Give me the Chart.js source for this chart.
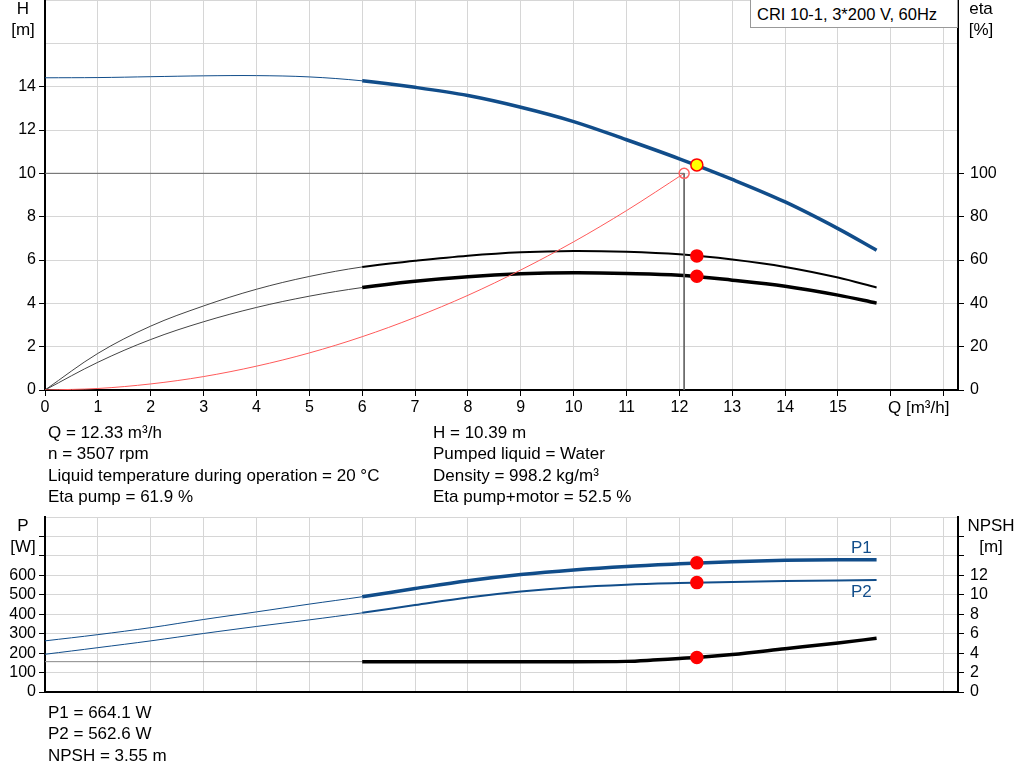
<!DOCTYPE html>
<html>
<head>
<meta charset="utf-8">
<script src="https://cdn.jsdelivr.net/npm/chart.js@4"></script>
<style>
  body { margin: 0; background: #fff; font-family: "Liberation Sans", Arial, sans-serif; }
  #wrap { position: relative; width: 1024px; height: 781px; overflow: hidden; }
  .box { position: absolute; }
  .t { position: absolute; font-size: 17px; color: #000; white-space: nowrap; line-height: 21.3px; }
  .c { text-align: center; }
  #title { position: absolute; left: 750px; top: -1px; width: 208px; height: 29px; border: 1px solid #999;
           background: #fff; font-size: 16.5px; line-height: 29px; padding-left: 6px; box-sizing: border-box; }
</style>
</head>
<body>
<div id="wrap">
  <div class="box" style="left:0;top:0;width:1024px;height:420px"><canvas id="top"></canvas></div>
  <div class="box" style="left:0;top:506px;width:1024px;height:200px"><canvas id="bottom"></canvas></div>

  <div id="title">CRI 10-1, 3*200 V, 60Hz</div>

  <div class="t c" style="left:3px;top:-2px;width:40px">H<br>[m]</div>
  <div class="t c" style="left:961px;top:-2px;width:40px">eta<br>[%]</div>
  <div class="t" style="left:888px;top:397px">Q [m³/h]</div>

  <div class="t" style="left:48px;top:422px">Q = 12.33 m³/h<br>n = 3507 rpm<br>Liquid temperature during operation = 20 °C<br>Eta pump = 61.9 %</div>
  <div class="t" style="left:433px;top:422px">H = 10.39 m<br>Pumped liquid = Water<br>Density = 998.2 kg/m³<br>Eta pump+motor = 52.5 %</div>

  <div class="t c" style="left:3px;top:515px;width:40px">P<br>[W]</div>
  <div class="t c" style="left:964px;top:515px;width:54px">NPSH<br>[m]</div>
  <div class="t" style="left:851px;top:537px;color:#114d8a">P1</div>
  <div class="t" style="left:851px;top:581px;color:#114d8a">P2</div>

  <div class="t" style="left:48px;top:702px">P1 = 664.1 W<br>P2 = 562.6 W<br>NPSH = 3.55 m</div>
</div>

<script>
// flow values (m3/h)
const qCurve = [0, 1, 2, 3, 4, 5, 6, 7, 8, 9, 10, 11, 12, 13, 14, 15, 15.73];
// head H [m]
const headH = [14.41, 14.42, 14.46, 14.5, 14.51, 14.45, 14.27, 13.97, 13.59, 13.05, 12.39, 11.55, 10.67, 9.72, 8.68, 7.45, 6.45];
// eta pump / eta pump+motor [%]
const etaPump = [0, 16.9, 29.5, 38.8, 46.5, 52.4, 56.8, 59.6, 62.0, 63.6, 64.2, 63.8, 62.6, 60.2, 56.8, 51.9, 47.3];
const etaTotal = [0, 12.8, 23.3, 31.5, 38.1, 43.3, 47.3, 50.2, 52.3, 53.6, 54.1, 53.8, 53.0, 50.7, 47.9, 43.8, 40.1];
// system curve
const qSystem = [0, 1, 2, 3, 4, 5, 6, 7, 8, 9, 10, 11, 12.09];
const hSystem = [0, 0.07, 0.28, 0.62, 1.1, 1.71, 2.46, 3.35, 4.37, 5.54, 6.84, 8.28, 10];
// power [W]
const powerP1 = [263, 295, 331, 373, 412, 452, 490, 532, 572, 604, 628, 646, 659, 670, 677, 680, 680];
const powerP2 = [194, 228, 263, 301, 337, 371, 407, 447, 486, 517, 539, 552, 560, 566, 571, 574, 576];
// NPSH [m]
const qNpsh = [0, 6, 7, 8, 9, 10, 11, 11.5, 12, 12.33, 13, 14, 15, 15.73];
const npsh = [3.12, 3.12, 3.12, 3.12, 3.12, 3.12, 3.15, 3.28, 3.45, 3.55, 3.85, 4.45, 5.05, 5.52];
// duty point
const dutyQ = 12.33, dutyH = 10.39, dutyEtaPump = 61.9, dutyEtaTotal = 52.5;
const dutyP1 = 664.1, dutyP2 = 562.6, dutyNpsh = 3.55;
const reqQ = 12.09, reqH = 10;
// tick label limits
const xLabelMax = 15, hLabelMax = 14, etaLabelMax = 100, pLabelMax = 600, npshLabelMax = 12;

const BLUE = '#114d8a';
const GRID = '#d6d6d6';
const FONT = { family: '"Liberation Sans", Arial, sans-serif', size: 16 };

function pts(xs, ys) { return xs.map((x, i) => ({ x: x, y: ys[i] })); }

// thin below 6 m3/h, thick from there on
function curve(xs, ys, color, thick, axis, thinColor, mono) {
  const ds = {
    data: pts(xs, ys), yAxisID: axis, borderColor: color, pointRadius: 0,
    tension: 0.35, fill: false,
    segment: {
      borderWidth: c => c.p0.parsed.x < 6 ? 1 : thick,
      borderColor: c => c.p0.parsed.x < 6 ? (thinColor || color) : color
    }
  };
  if (mono) ds.cubicInterpolationMode = 'monotone';
  return ds;
}

function dot(x, y, axis, fillColor, border, r) {
  return {
    data: [{ x: x, y: y }], yAxisID: axis, showLine: false,
    pointRadius: r, pointBackgroundColor: fillColor, pointBorderColor: border,
    pointBorderWidth: 1.5
  };
}

function labelCb(limit) {
  return v => (v <= limit + 1e-9 ? String(v) : '');
}
function tickCol(limit) {
  return c => (c.tick && c.tick.value <= limit + 1e-9 ? '#000' : 'rgba(0,0,0,0)');
}
function fixW(w) {
  return s => { s.width = w; s.paddingTop = 0; s.paddingBottom = 0; };
}
function fixH(h) {
  return s => { s.height = h; s.paddingLeft = 0; s.paddingRight = 0; };
}

Chart.defaults.font = FONT;
Chart.defaults.color = '#000';
Chart.defaults.animation = false;

const xScale = (showLabels, h) => ({
  type: 'linear', min: 0, max: 17.27,
  ticks: {
    stepSize: 1, includeBounds: false, display: showLabels, padding: 2,
    callback: labelCb(xLabelMax), maxRotation: 0, autoSkip: false
  },
  grid: { color: GRID, tickColor: '#000', tickLength: 6, drawTicks: showLabels },
  border: { color: '#000', width: 2 },
  afterFit: fixH(h)
});

const yScale = (max, step, limit, tickLimit, w, right) => ({
  type: 'linear', position: right ? 'right' : 'left', min: 0, max: max,
  ticks: { stepSize: step, callback: labelCb(limit), padding: right ? 6 : 3, autoSkip: false },
  grid: right
    ? { drawOnChartArea: false, tickLength: 6, tickColor: tickCol(tickLimit) }
    : { color: GRID, tickLength: 6, tickColor: tickCol(tickLimit) },
  border: { color: '#000', width: 2 },
  afterFit: fixW(w)
});

new Chart(document.getElementById('top'), {
  type: 'line',
  data: {
    datasets: [
      dot(dutyQ, dutyH, 'y', '#ffff00', '#ff0000', 6),
      dot(dutyQ, dutyEtaPump, 'y2', '#ff0000', '#ff0000', 6),
      dot(dutyQ, dutyEtaTotal, 'y2', '#ff0000', '#ff0000', 6),
      dot(reqQ, reqH, 'y', 'rgba(0,0,0,0)', '#ff6060', 5),
      {
        data: [{ x: 0, y: reqH }, { x: reqQ, y: reqH }, { x: reqQ, y: 0 }],
        yAxisID: 'y', borderColor: '#666', borderWidth: 1, pointRadius: 0, tension: 0
      },
      {
        data: pts(qSystem, hSystem), yAxisID: 'y', borderColor: '#ff5a5a', borderWidth: 1,
        pointRadius: 0, cubicInterpolationMode: 'monotone'
      },
      curve(qCurve, headH, BLUE, 3.5, 'y'),
      curve(qCurve, etaPump, '#000', 2, 'y2', '#444'),
      curve(qCurve, etaTotal, '#000', 3.5, 'y2', '#444')
    ]
  },
  options: {
    responsive: true, maintainAspectRatio: false,
    layout: { padding: 0, autoPadding: false },
    plugins: { legend: { display: false }, tooltip: { enabled: false } },
    scales: {
      x: xScale(true, 30),
      y: yScale(18, 2, hLabelMax, hLabelMax, 45, false),
      y2: yScale(180, 20, etaLabelMax, etaLabelMax, 66, true)
    }
  }
});

new Chart(document.getElementById('bottom'), {
  type: 'line',
  data: {
    datasets: [
      dot(dutyQ, dutyP1, 'y', '#ff0000', '#ff0000', 6),
      dot(dutyQ, dutyP2, 'y', '#ff0000', '#ff0000', 6),
      dot(dutyQ, dutyNpsh, 'y2', '#ff0000', '#ff0000', 6),
      curve(qCurve, powerP1, BLUE, 3.5, 'y'),
      curve(qCurve, powerP2, BLUE, 2, 'y'),
      curve(qNpsh, npsh, '#000', 3.5, 'y2', '#888', true)
    ]
  },
  options: {
    responsive: true, maintainAspectRatio: false,
    layout: { padding: { top: 11 }, autoPadding: false },
    plugins: { legend: { display: false }, tooltip: { enabled: false } },
    scales: {
      x: xScale(false, 14),
      y: yScale(900, 100, pLabelMax, 800, 45, false),
      y2: yScale(18, 2, npshLabelMax, 16, 66, true)
    }
  }
});
</script>
</body>
</html>
